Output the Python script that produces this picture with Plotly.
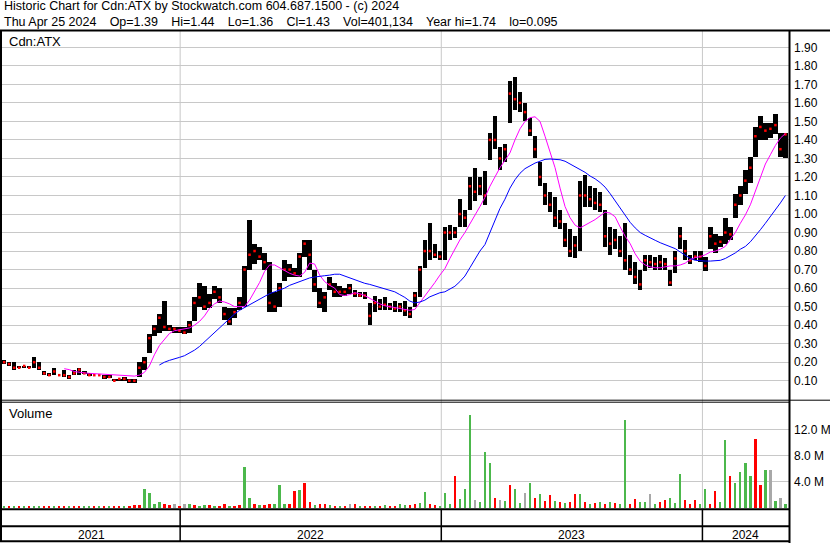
import plotly.graph_objects as go
import pandas as pd

# ---------------- data (weekly readings of the chart) ----------------
week_start = "2021-04-30"
n_weeks = 157
dates = pd.date_range(week_start, periods=n_weeks, freq="7D")

high = [0.21, 0.20, 0.20, 0.18, 0.18, 0.18, 0.23, 0.20, 0.15, 0.14,
        0.17, 0.13, 0.16, 0.13, 0.16, 0.17, 0.15, 0.14, 0.13, 0.13,
        0.13, 0.13, 0.11, 0.11, 0.12, 0.11, 0.11, 0.20, 0.23, 0.35,
        0.40, 0.46, 0.53, 0.40, 0.39, 0.39, 0.39, 0.42, 0.55, 0.63,
        0.61, 0.57, 0.61, 0.60, 0.50, 0.49, 0.49, 0.55, 0.72, 0.97,
        0.84, 0.82, 0.79, 0.74, 0.58, 0.63, 0.75, 0.73, 0.71, 0.79,
        0.86, 0.86, 0.70, 0.60, 0.58, 0.66, 0.63, 0.61, 0.60, 0.62,
        0.59, 0.58, 0.58, 0.52, 0.56, 0.54, 0.55, 0.52, 0.53, 0.52,
        0.53, 0.50, 0.58, 0.72, 0.86, 0.95, 0.84, 0.80, 0.93, 0.94,
        0.93, 1.08, 1.02, 1.20, 1.25, 1.20, 1.23, 1.44, 1.53, 1.36,
        1.38, 1.72, 1.74, 1.66, 1.60, 1.52, 1.42, 1.28, 1.17, 1.12,
        1.09, 1.02, 0.95, 0.92, 0.88, 1.18, 1.21, 1.15, 1.14, 1.12,
        1.02, 0.93, 0.92, 0.88, 0.95, 0.78, 0.74, 0.70, 0.78, 0.78,
        0.77, 0.78, 0.76, 0.70, 0.80, 0.93, 0.86, 0.78, 0.80, 0.80,
        0.77, 0.93, 0.89, 0.88, 0.98, 0.93, 1.11, 1.15, 1.24, 1.31,
        1.47, 1.53, 1.49, 1.49, 1.54, 1.44, 1.44]

low = [0.19, 0.18, 0.16, 0.17, 0.17, 0.17, 0.17, 0.16, 0.13, 0.13,
       0.13, 0.13, 0.12, 0.11, 0.13, 0.13, 0.14, 0.13, 0.13, 0.13,
       0.11, 0.12, 0.10, 0.10, 0.10, 0.09, 0.09, 0.12, 0.16, 0.25,
       0.34, 0.36, 0.37, 0.37, 0.36, 0.36, 0.35, 0.36, 0.42, 0.50,
       0.48, 0.49, 0.54, 0.52, 0.43, 0.40, 0.44, 0.48, 0.50, 0.70,
       0.73, 0.75, 0.70, 0.47, 0.47, 0.50, 0.64, 0.66, 0.66, 0.66,
       0.77, 0.70, 0.58, 0.49, 0.47, 0.59, 0.55, 0.55, 0.56, 0.57,
       0.55, 0.55, 0.54, 0.40, 0.47, 0.48, 0.48, 0.48, 0.47, 0.47,
       0.45, 0.44, 0.50, 0.55, 0.71, 0.75, 0.76, 0.75, 0.75, 0.86,
       0.87, 0.93, 0.93, 1.02, 1.07, 1.10, 1.05, 1.29, 1.35, 1.24,
       1.28, 1.49, 1.56, 1.55, 1.50, 1.42, 1.30, 1.15, 1.05, 1.01,
       0.93, 0.92, 0.82, 0.77, 0.76, 0.80, 1.04, 1.04, 1.02, 1.01,
       0.82, 0.78, 0.81, 0.77, 0.70, 0.67, 0.62, 0.59, 0.69, 0.71,
       0.70, 0.70, 0.70, 0.61, 0.68, 0.81, 0.75, 0.73, 0.75, 0.74,
       0.69, 0.81, 0.79, 0.82, 0.84, 0.86, 0.98, 1.05, 1.11, 1.17,
       1.31, 1.40, 1.40, 1.41, 1.43, 1.31, 1.30]

close = [0.20, 0.19, 0.17, 0.17, 0.18, 0.17, 0.20, 0.17, 0.14, 0.13,
         0.15, 0.13, 0.13, 0.12, 0.14, 0.16, 0.14, 0.13, 0.13, 0.13,
         0.12, 0.12, 0.10, 0.11, 0.11, 0.10, 0.10, 0.17, 0.20, 0.33,
         0.38, 0.44, 0.39, 0.38, 0.38, 0.37, 0.36, 0.40, 0.52, 0.55,
         0.50, 0.52, 0.58, 0.55, 0.46, 0.42, 0.47, 0.52, 0.70, 0.78,
         0.80, 0.77, 0.74, 0.52, 0.50, 0.60, 0.70, 0.70, 0.68, 0.77,
         0.84, 0.78, 0.62, 0.52, 0.55, 0.62, 0.58, 0.58, 0.58, 0.60,
         0.57, 0.56, 0.56, 0.45, 0.52, 0.50, 0.51, 0.50, 0.49, 0.50,
         0.48, 0.46, 0.56, 0.70, 0.80, 0.80, 0.78, 0.77, 0.90, 0.90,
         0.90, 1.00, 0.98, 1.15, 1.12, 1.15, 1.10, 1.40, 1.40, 1.30,
         1.35, 1.65, 1.62, 1.60, 1.55, 1.45, 1.35, 1.20, 1.10, 1.05,
         0.98, 0.96, 0.86, 0.80, 0.83, 1.10, 1.10, 1.08, 1.06, 1.05,
         0.88, 0.84, 0.86, 0.80, 0.75, 0.70, 0.66, 0.62, 0.75, 0.74,
         0.73, 0.74, 0.73, 0.63, 0.76, 0.88, 0.80, 0.75, 0.77, 0.77,
         0.72, 0.88, 0.84, 0.85, 0.90, 0.89, 1.05, 1.10, 1.18, 1.25,
         1.42, 1.47, 1.45, 1.46, 1.48, 1.35, 1.43]

ma_fast = [None] * 12 + [
    0.165, 0.160, 0.150, 0.145, 0.142, 0.140, 0.138, 0.136,
    0.135, 0.132, 0.130, 0.128, 0.126, 0.125, 0.125, 0.130, 0.145, 0.180,
    0.240, 0.290, 0.320, 0.355, 0.370, 0.375, 0.377, 0.385, 0.400, 0.420,
    0.450, 0.490, 0.515, 0.530, 0.525, 0.515, 0.500, 0.500, 0.500, 0.535,
    0.580, 0.630, 0.690, 0.725, 0.725, 0.710, 0.695, 0.680, 0.670, 0.665,
    0.685, 0.735, 0.730, 0.670, 0.635, 0.615, 0.600, 0.565, 0.560, 0.565,
    0.575, 0.570, 0.560, 0.545, 0.530, 0.515, 0.505, 0.500, 0.495, 0.490,
    0.485, 0.480, 0.485, 0.520, 0.555, 0.590, 0.630, 0.670, 0.705, 0.760,
    0.810, 0.860, 0.900, 0.945, 0.990, 1.040, 1.090, 1.150, 1.200, 1.250,
    1.290, 1.330, 1.400, 1.460, 1.500, 1.520, 1.525, 1.500, 1.420, 1.330,
    1.250, 1.140, 1.040, 0.980, 0.940, 0.925, 0.940, 0.955, 0.970, 0.990,
    1.010, 1.005, 0.985, 0.930, 0.880, 0.840, 0.785, 0.745, 0.725, 0.715,
    0.710, 0.710, 0.715, 0.720, 0.720, 0.725, 0.735, 0.755, 0.765, 0.770,
    0.780, 0.795, 0.800, 0.810, 0.825, 0.860, 0.900, 0.950, 0.995, 1.050,
    1.120, 1.200, 1.270, 1.320, 1.370, 1.410, 1.435]

ma_slow = [None] * 31 + [
    0.185, 0.200, 0.210, 0.220, 0.226, 0.235, 0.250, 0.265, 0.285,
    0.310, 0.335, 0.360, 0.390, 0.415, 0.440, 0.460, 0.480, 0.495, 0.510,
    0.525, 0.540, 0.555, 0.570, 0.580, 0.590, 0.600, 0.615, 0.625, 0.635,
    0.645, 0.655, 0.660, 0.665, 0.667, 0.670, 0.675, 0.675, 0.665, 0.652,
    0.645, 0.635, 0.626, 0.620, 0.612, 0.605, 0.600, 0.592, 0.580, 0.565,
    0.550, 0.530, 0.520, 0.525, 0.535, 0.553, 0.565, 0.575, 0.580, 0.595,
    0.610, 0.635, 0.665, 0.710, 0.755, 0.800, 0.835, 0.900, 0.970, 1.030,
    1.080, 1.140, 1.185, 1.220, 1.245, 1.260, 1.275, 1.285, 1.295, 1.297,
    1.297, 1.293, 1.285, 1.270, 1.255, 1.240, 1.225, 1.205, 1.190, 1.170,
    1.145, 1.110, 1.070, 1.030, 0.990, 0.955, 0.925, 0.900, 0.885, 0.870,
    0.858, 0.845, 0.833, 0.825, 0.813, 0.795, 0.778, 0.760, 0.750, 0.747,
    0.746, 0.746, 0.746, 0.750, 0.760, 0.775, 0.790, 0.810, 0.825, 0.850,
    0.880, 0.915, 0.950, 0.985, 1.020, 1.060, 1.100]

vol_millions = [
    0.2, 0.3, 0.2, 0.2, 0.3, 0.2, 0.3, 0.3, 0.2, 0.2,
    0.2, 0.2, 0.2, 0.3, 0.2, 0.2, 0.2, 0.2, 0.2, 0.2,
    0.2, 0.2, 0.2, 0.3, 0.2, 0.3, 0.4, 0.4, 2.8, 2.3,
    0.6, 0.8, 0.6, 0.4, 0.5, 0.3, 0.6, 0.5, 0.4, 0.3,
    0.4, 0.4, 0.3, 0.3, 0.5, 0.3, 0.3, 0.4, 6.2, 1.4,
    0.5, 0.4, 0.4, 0.5, 0.5, 3.4, 0.6, 0.5, 2.6, 2.7,
    3.7, 0.8, 0.4, 0.6, 0.5, 0.4, 0.3, 0.3, 0.3, 0.5,
    0.5, 0.3, 0.3, 0.3, 0.3, 0.3, 0.4, 0.3, 0.3, 0.6,
    0.4, 0.4, 0.5, 0.7, 2.4, 0.6, 0.4, 0.3, 2.2, 0.5,
    4.8, 1.3, 2.9, 14.2, 1.2, 0.8, 8.5, 6.9, 1.5, 1.2,
    1.0, 3.4, 2.9, 0.7, 2.3, 3.8, 1.5, 2.1, 1.0, 1.9,
    1.0, 0.8, 0.7, 0.9, 2.0, 2.1, 0.8, 0.6, 0.7, 0.9,
    0.6, 0.8, 0.7, 0.6, 13.5, 0.6, 1.3, 0.8, 0.9, 2.0,
    0.5, 0.8, 1.2, 1.5, 0.7, 5.2, 1.2, 0.6, 1.2, 0.5,
    2.9, 0.5, 2.5, 0.8, 10.3, 4.8, 3.8, 5.4, 6.9, 4.9,
    10.5, 3.5, 5.7, 5.7, 1.0, 1.5, 0.6]

# u = up day, d = down day, f = unchanged (ten weeks per entry)
vol_direction_blocks = [
    "udududuudd", "uddudduudu", "dudduddduu", "uuddfdfudu",
    "ududdudduu", "dudduuuddu", "dduddududf", "duddududdu",
    "udduudduuu", "duuufuuudf", "uduufududd", "ududdududu",
    "duduudduuf", "udduuudddu", "udduuduuuu", "ddufufu",
]

price_ticks = [0.1, 0.2, 0.3, 0.4, 0.5, 0.6, 0.7, 0.8, 0.9, 1.0,
               1.1, 1.2, 1.3, 1.4, 1.5, 1.6, 1.7, 1.8, 1.9]
vol_ticks = [4, 8, 12]
vol_tick_text = ["4.0 M", "8.0 M", "12.0 M"]

year_labels = ["2021", "2022", "2023", "2024"]
year_breaks = ["2022-01-01", "2023-01-01", "2024-01-01"]
x_range = ["2021-04-27", "2024-05-01"]

title_line1 = "Historic Chart for Cdn:ATX by Stockwatch.com 604.687.1500 - (c) 2024"
title_line2_parts = ["Thu Apr 25 2024", "Op=1.39", "Hi=1.44", "Lo=1.36",
                     "Cl=1.43", "Vol=401,134", "Year hi=1.74", "lo=0.095"]
symbol_label = "Cdn:ATX"
volume_label = "Volume"

# ---------------- layout helpers ----------------
W, H = 830, 543
FONT = "Arial, 'Liberation Sans', sans-serif"


def px(xp):
    return xp / W


def py(yp):
    return 1 - yp / H


DAY_MS = 86400000
colour_map = {"u": "#4cb84c", "d": "#ff0000", "f": "#a8a8a8"}
vol_dir = ("".join(vol_direction_blocks) + "f" * n_weeks)[:n_weeks]
vol_colours = [colour_map[c] for c in vol_dir]

fig = go.Figure()

# price range bars
fig.add_trace(go.Bar(
    x=dates, y=[h - l for h, l in zip(high, low)], base=low,
    width=6.2 * DAY_MS, marker=dict(color="black", line=dict(width=0)),
    xaxis="x", yaxis="y", showlegend=False))

# close marks
fig.add_trace(go.Scatter(
    x=dates, y=close, mode="markers",
    marker=dict(symbol="square", size=2.5, color="#ff0000", line=dict(width=0)),
    xaxis="x", yaxis="y", showlegend=False))

# moving averages
fig.add_trace(go.Scatter(x=dates, y=ma_fast, mode="lines",
                         line=dict(color="#ff00ff", width=1),
                         xaxis="x", yaxis="y", showlegend=False))
fig.add_trace(go.Scatter(x=dates, y=ma_slow, mode="lines",
                         line=dict(color="#0000ff", width=1),
                         xaxis="x", yaxis="y", showlegend=False))

# volume
fig.add_trace(go.Bar(
    x=dates, y=vol_millions, width=3.2 * DAY_MS,
    marker=dict(color=vol_colours, line=dict(width=0)),
    xaxis="x2", yaxis="y2", showlegend=False))

x_dom = [px(2), px(789)]

shapes = []
for d in year_breaks:
    shapes.append(dict(type="line", xref="x", yref="paper", x0=d, x1=d,
                       y0=py(509), y1=py(31),
                       line=dict(color="#c8c8c8", width=1), layer="below"))
    shapes.append(dict(type="line", xref="x", yref="paper", x0=d, x1=d,
                       y0=py(541), y1=py(509),
                       line=dict(color="black", width=1.5)))


def hline(y, x0, x1, w):
    shapes.append(dict(type="line", xref="paper", yref="paper",
                       x0=px(x0), x1=px(x1), y0=py(y), y1=py(y),
                       line=dict(color="black", width=w)))


def vline(x, y0, y1, w):
    shapes.append(dict(type="line", xref="paper", yref="paper",
                       x0=px(x), x1=px(x), y0=py(y0), y1=py(y1),
                       line=dict(color="black", width=w)))


hline(30.5, 0, 830, 2)
hline(400.2, 0, 830, 1)
hline(402.2, 0, 789.5, 1)
hline(509.2, 0, 789.5, 2)
hline(526.2, 0, 789.5, 2)
hline(541.2, 0, 789.5, 2)
vline(1, 30, 542, 2)
vline(789.5, 30, 543, 2)

gap = "\u00a0\u2002 "
annotations = [
    dict(text=title_line1, xref="paper", yref="paper",
         x=px(2), y=py(6.0), xanchor="left", yanchor="middle", showarrow=False,
         font=dict(family=FONT, size=12.5, color="black")),
    dict(text=gap.join(title_line2_parts), xref="paper", yref="paper",
         x=px(2), y=py(22.0), xanchor="left", yanchor="middle", showarrow=False,
         font=dict(family=FONT, size=12.5, color="black")),
    dict(text=symbol_label, xref="paper", yref="paper",
         x=px(7), y=py(41.5), xanchor="left", yanchor="middle", showarrow=False,
         font=dict(family=FONT, size=13, color="black")),
    dict(text=volume_label, xref="paper", yref="paper",
         x=px(7), y=py(413.5), xanchor="left", yanchor="middle", showarrow=False,
         font=dict(family=FONT, size=13, color="black")),
]

bounds = ([pd.Timestamp(x_range[0])] + [pd.Timestamp(d) for d in year_breaks]
          + [pd.Timestamp(x_range[1])])
for lab, a, b in zip(year_labels, bounds[:-1], bounds[1:]):
    mid = a + (b - a) / 2
    annotations.append(dict(text=lab, xref="x", yref="paper", x=mid,
                            y=py(534.5), xanchor="center", yanchor="middle",
                            showarrow=False,
                            font=dict(family=FONT, size=12, color="black")))

fig.update_layout(
    width=W, height=H,
    margin=dict(l=0, r=0, t=0, b=0, pad=0, autoexpand=False),
    paper_bgcolor="white", plot_bgcolor="white",
    bargap=0, barmode="overlay",
    showlegend=False,
    xaxis=dict(domain=x_dom, type="date", range=x_range, anchor="y",
               showgrid=False, showticklabels=False, zeroline=False,
               showline=False, automargin=False),
    xaxis2=dict(domain=x_dom, type="date", range=x_range, anchor="y2",
                matches="x", showgrid=False, showticklabels=False,
                zeroline=False, showline=False, automargin=False),
    yaxis=dict(domain=[py(400), py(31)], range=[-0.004, 1.988], side="right",
               anchor="x", tickvals=price_ticks,
               ticktext=["%.2f" % v for v in price_ticks],
               showgrid=True, gridcolor="#c8c8c8", gridwidth=1,
               zeroline=False, showline=False, ticks="",
               ticklabelstandoff=4, automargin=False,
               tickfont=dict(family=FONT, size=12, color="black")),
    yaxis2=dict(domain=[py(509), py(402)], range=[-0.23, 16.2], side="right",
                anchor="x2", tickvals=vol_ticks, ticktext=vol_tick_text,
                showgrid=True, gridcolor="#c8c8c8", gridwidth=1,
                zeroline=False, showline=False, ticks="",
                ticklabelstandoff=4, automargin=False,
                tickfont=dict(family=FONT, size=12, color="black")),
    shapes=shapes,
    annotations=annotations,
)

fig.write_html("out.html",
               config={"displayModeBar": False},
               post_script="document.body.style.margin='0';"
                           "document.body.style.padding='0';")
